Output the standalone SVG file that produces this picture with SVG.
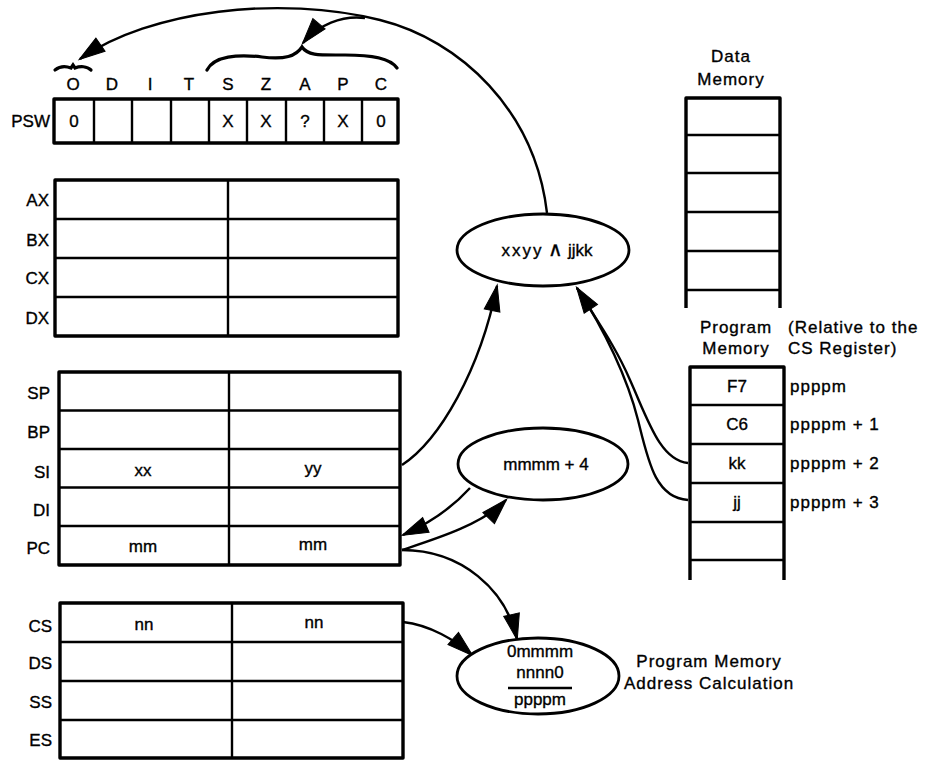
<svg xmlns="http://www.w3.org/2000/svg" width="927" height="761" viewBox="0 0 927 761">
<style>
text{font-family:"Liberation Sans",Arial,sans-serif;font-size:17px;fill:#000;stroke:#000;stroke-width:0.35}
.c{text-anchor:middle}
.r{text-anchor:end}
.box{fill:none;stroke:#000;stroke-width:3.4;stroke-linejoin:round}
.div{stroke:#000;stroke-width:2.4;fill:none}
.ell{fill:#fff;stroke:#000;stroke-width:2.8}
.con{fill:none;stroke:#000;stroke-width:2.4}
.brace{fill:none;stroke:#000;stroke-width:3.2;stroke-linecap:round}
.sp{letter-spacing:1px}
.head{fill:#000;stroke:#000;stroke-width:1;stroke-linejoin:miter}
</style>
<defs>
<marker id="ah" markerUnits="userSpaceOnUse" viewBox="0 0 30 24" markerWidth="30" markerHeight="24" refX="25" refY="12" orient="auto" overflow="visible">
<path class="head" d="M0,4 L26,12 L0,20 Z"/>
</marker>
</defs>
<rect width="927" height="761" fill="#fff"/>

<g id="connectors">
<path class="con" d="M547,213 C535,110 460,40 380,20 C280,-5 150,10 80,59" marker-end="url(#ah)"/>
<path class="con" d="M365,18 C342,15 318,25 303,43" marker-end="url(#ah)"/>
<path class="con" d="M402,465 C440,440 480,370 497,286" marker-end="url(#ah)"/>
<path class="con" d="M688,463 C660,460 648,420 630,380 C615,345 595,318 577,288"/>
<path class="con" d="M688,500 C655,498 648,460 638,420 C628,380 605,330 577,288" marker-end="url(#ah)"/>
<path class="con" d="M470,488 C450,510 428,524 403,535" marker-end="url(#ah)"/>
<path class="con" d="M402,550 C432,540 482,525 506,500" marker-end="url(#ah)"/>
<path class="con" d="M402,550 C462,550 506,590 517,639" marker-end="url(#ah)"/>
<path class="con" d="M403,622 C430,625 455,640 472,655" marker-end="url(#ah)"/>
</g>

<g id="braces">
<path class="brace" d="M55,70 C60,66 66,66 71,68 L73,65 L75,68 C80,66 87,66 91,70"/>
<path class="brace" d="M207,70 C214,56 238,54 262,57 C285,60 296,56 302,47 C308,56 320,55 345,55 C372,55 390,58 397,68"/>
</g>

<g id="psw">
<text x="73" y="90" class="c">O</text>
<text x="112" y="90" class="c">D</text>
<text x="150" y="90" class="c">I</text>
<text x="189" y="90" class="c">T</text>
<text x="228" y="90" class="c">S</text>
<text x="266" y="90" class="c">Z</text>
<text x="305" y="90" class="c">A</text>
<text x="343" y="90" class="c">P</text>
<text x="381" y="90" class="c">C</text>
<text x="50" y="127" class="r">PSW</text>
<rect class="box" x="54" y="99" width="344" height="44"/>
<path class="div" d="M94,99V143M132,99V143M171,99V143M209,99V143M247,99V143M286,99V143M324,99V143M362,99V143"/>
<text x="74" y="127" class="c">0</text>
<text x="228" y="127" class="c">X</text>
<text x="266" y="127" class="c">X</text>
<text x="305" y="127" class="c">?</text>
<text x="343" y="127" class="c">X</text>
<text x="381" y="127" class="c">0</text>
</g>

<g id="general-registers">
<rect class="box" x="55" y="180" width="343" height="156"/>
<path class="div" d="M55,219H398M55,258H398M55,297H398M228,180V336"/>
<text x="49" y="206" class="r">AX</text>
<text x="49" y="246" class="r">BX</text>
<text x="49" y="284" class="r">CX</text>
<text x="49" y="324" class="r">DX</text>
</g>

<g id="pointer-registers">
<rect class="box" x="59" y="372" width="341" height="193"/>
<path class="div" d="M59,410.5H400M59,449H400M59,487.5H400M59,526H400M229,372V565"/>
<text x="50" y="399" class="r">SP</text>
<text x="50" y="438" class="r">BP</text>
<text x="50" y="478" class="r">SI</text>
<text x="50" y="516" class="r">DI</text>
<text x="50" y="554" class="r">PC</text>
<text x="143" y="476" class="c">xx</text>
<text x="313" y="474" class="c">yy</text>
<text x="143" y="552" class="c">mm</text>
<text x="313" y="550" class="c">mm</text>
</g>

<g id="segment-registers">
<rect class="box" x="60" y="603" width="343" height="155"/>
<path class="div" d="M60,642H403M60,681H403M60,720H403M232,603V758"/>
<text x="52" y="632" class="r">CS</text>
<text x="52" y="669" class="r">DS</text>
<text x="52" y="708" class="r">SS</text>
<text x="52" y="746" class="r">ES</text>
<text x="144" y="630" class="c">nn</text>
<text x="314" y="628" class="c">nn</text>
</g>

<g id="data-memory">
<text x="731" y="62" class="c sp">Data</text>
<text x="731" y="85" class="c sp">Memory</text>
<path class="box" d="M686,308V98H780V308"/>
<path class="div" d="M686,135H780M686,173H780M686,212H780M686,251H780M686,290H780"/>
</g>

<g id="program-memory">
<text x="736" y="333" class="c sp">Program</text>
<text x="736" y="354" class="c sp">Memory</text>
<text x="788" y="333" class="sp">(Relative to the</text>
<text x="788" y="354" class="sp">CS Register)</text>
<path class="box" d="M690,580V367H784V580"/>
<path class="div" d="M690,405H784M690,444H784M690,483H784M690,522H784M690,560H784"/>
<text x="737" y="392" class="c">F7</text>
<text x="737" y="430" class="c">C6</text>
<text x="737" y="469" class="c">kk</text>
<text x="737" y="508" class="c">jj</text>
<text x="790" y="392" class="sp">ppppm</text>
<text x="790" y="430" class="sp">ppppm + 1</text>
<text x="790" y="469" class="sp">ppppm + 2</text>
<text x="790" y="508" class="sp">ppppm + 3</text>
</g>

<g id="and-op">
<ellipse class="ell" cx="543" cy="250" rx="86" ry="36"/>
<text x="547" y="256" class="c"><tspan letter-spacing="2">xxyy</tspan> <tspan font-size="20">∧</tspan> jjkk</text>
</g>

<g id="increment-op">
<ellipse class="ell" cx="543" cy="464" rx="85" ry="36"/>
<text x="546" y="470" class="c">mmmm + 4</text>
</g>

<g id="address-calc">
<ellipse class="ell" cx="538" cy="676" rx="81" ry="38"/>
<text x="540" y="657" class="c">0mmmm</text>
<text x="540" y="678" class="c">nnnn0</text>
<path class="div" d="M508,688H572"/>
<text x="540" y="705" class="c">ppppm</text>
<text x="709" y="667" class="c sp">Program Memory</text>
<text x="709" y="689" class="c sp">Address Calculation</text>
</g>
</svg>
